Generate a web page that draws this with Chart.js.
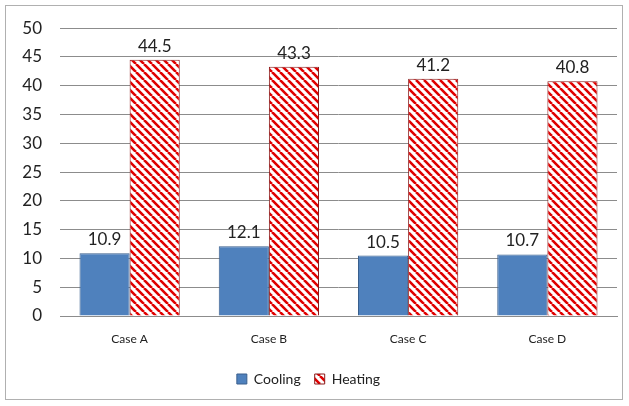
<!DOCTYPE html>
<html><head><meta charset="utf-8">
<script src="https://cdn.jsdelivr.net/npm/chart.js@4/dist/chart.umd.min.js"></script>
<style>html,body{margin:0;padding:0;background:#fff;}</style>
</head><body>
<canvas id="c" width="629" height="406"></canvas>
<script>
const categories = ["Case A", "Case B", "Case C", "Case D"];
const cooling = [10.9, 12.1, 10.5, 10.7];
const heating = [44.5, 43.3, 41.2, 40.8];
const yTicks = [0, 5, 10, 15, 20, 25, 30, 35, 40, 45, 50];

function makeHatch() {
  const s = 8;
  const p = document.createElement('canvas');
  p.width = s; p.height = s;
  const g = p.getContext('2d');
  g.fillStyle = '#fff'; g.fillRect(0, 0, s, s);
  g.strokeStyle = '#e00000'; g.lineWidth = 2.6;
  g.beginPath();
  for (let k = -1; k <= 1; k++) {
    g.moveTo(k * s, 0); g.lineTo(k * s + s, s);
  }
  g.stroke();
  return document.getElementById('c').getContext('2d').createPattern(p, 'repeat');
}
const hatch = makeHatch();

const frame = {
  id: 'frame',
  beforeDraw(chart) {
    const ctx = chart.ctx;
    ctx.save();
    ctx.fillStyle = '#fff';
    ctx.fillRect(0, 0, chart.width, chart.height);
    ctx.strokeStyle = '#b0b0b0';
    ctx.lineWidth = 1;
    ctx.strokeRect(5.5, 5.5, 617, 394);
    ctx.restore();
  }
};
const labels = {
  id: 'vlabels',
  afterDatasetsDraw(chart) {
    const ctx = chart.ctx;
    ctx.save();
    ctx.font = '17px Lato, "Liberation Sans", sans-serif';
    ctx.fillStyle = '#222';
    ctx.textAlign = 'center';
    ctx.textBaseline = 'alphabetic';
    chart.data.datasets.forEach((ds, i) => {
      chart.getDatasetMeta(i).data.forEach((bar, j) => {
        ctx.fillText(ds.data[j].toFixed(1), bar.x, bar.y - 8);
      });
    });
    ctx.restore();
  }
};

new Chart(document.getElementById('c'), {
  type: 'bar',
  data: {
    labels: categories,
    datasets: [
      { label: 'Cooling', data: cooling, backgroundColor: '#4f81bd', borderColor: '#3a5f8d', borderWidth: 1 },
      { label: 'Heating', data: heating, backgroundColor: hatch, borderColor: '#8b1a1a', borderWidth: 1 }
    ]
  },
  plugins: [frame, labels],
  options: {
    responsive: false,
    animation: false,
    devicePixelRatio: 1,
    layout: { padding: { left: 0, right: 12, top: 25, bottom: 10 } },
    datasets: { bar: { categoryPercentage: 0.72, barPercentage: 1.0 } },
    plugins: {
      tooltip: { enabled: false },
      legend: {
        position: 'bottom',
        labels: {
          boxWidth: 10, boxHeight: 10, padding: 14,
          color: '#222',
          font: { size: 14, family: 'Lato, "Liberation Sans", sans-serif' }
        }
      }
    },
    scales: {
      x: {
        grid: { display: false, drawTicks: false },
        border: { display: true, color: '#8c8c8c' },
        ticks: { color: '#222', padding: 16, font: { size: 12, family: 'Lato, "Liberation Sans", sans-serif' } },
        afterFit(s) { s.height = 42; }
      },
      y: {
        min: 0, max: 50,
        afterBuildTicks(s) { s.ticks = yTicks.map(v => ({ value: v })); },
        grid: { color: '#8c8c8c', drawTicks: false },
        border: { display: false },
        ticks: { color: '#222', padding: 18, font: { size: 17, family: 'Lato, "Liberation Sans", sans-serif' } },
        afterFit(s) { s.width = 60; }
      }
    }
  }
});
</script>
</body></html>
